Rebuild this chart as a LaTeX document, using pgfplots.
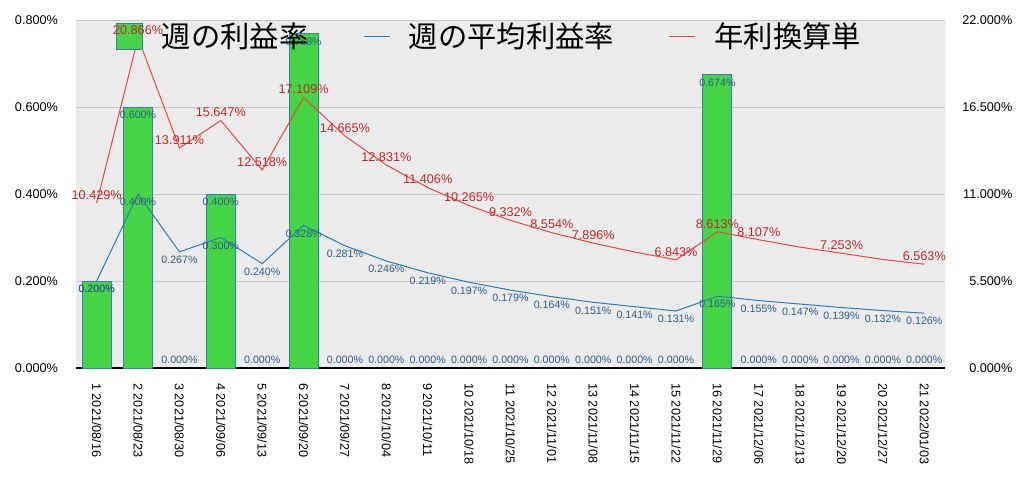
\documentclass[border=0pt]{standalone}
\usepackage{pgfplots}
\pgfplotsset{compat=1.18}
\usepackage{fontspec}
\setmainfont{Liberation Sans}
\newfontfamily\cjk{Noto Sans CJK JP}
\definecolor{barG}{RGB}{68,212,68}
\definecolor{barB}{RGB}{58,124,190}
\definecolor{avgB}{RGB}{46,125,194}
\definecolor{lblB}{RGB}{47,95,145}
\definecolor{redL}{RGB}{240,70,70}
\definecolor{lblR}{RGB}{200,40,40}
\definecolor{bgc}{RGB}{235,235,235}
\definecolor{gridc}{RGB}{200,200,200}
\begin{document}
\begin{tikzpicture}
\pgfplotsset{
  base/.style={scale only axis, width=651.75pt, height=261pt, xmin=0.5, xmax=21.5,
    anchor=south west, at={(0pt,0pt)}, major tick length=0pt, clip=false},
  bluelbl/.style={draw=none, mark=none, point meta=y, nodes near coords={\pgfmathprintnumber[fixed,fixed zerofill,precision=3,assume math mode=true]{\pgfplotspointmeta}\%},
    every node near coord/.style={text=lblB, font=\fontsize{8}{9}\selectfont, inner sep=0pt}},
}
\begin{axis}[base,
  ymin=0, ymax=0.8, ytick={0,0.2,0.4,0.6,0.8},
  yticklabels={0.000\%,0.200\%,0.400\%,0.600\%,0.800\%},
  axis background/.style={fill=bgc},
  ymajorgrids, major grid style={gridc, line width=0.75pt},
  axis x line*=bottom, axis y line*=left,
  y axis line style={draw=none}, x axis line style={black, line width=1.5pt, -},
  xtick={1,...,21},
  xticklabels={1 2021/08/16,2 2021/08/23,3 2021/08/30,4 2021/09/06,5 2021/09/13,6 2021/09/20,7 2021/09/27,8 2021/10/04,9 2021/10/11,10 2021/10/18,11 2021/10/25,12 2021/11/01,13 2021/11/08,14 2021/11/15,15 2021/11/22,16 2021/11/29,17 2021/12/06,18 2021/12/13,19 2021/12/20,20 2021/12/27,21 2022/01/03},
  xticklabel style={rotate=-90, anchor=west, font=\fontsize{9.5}{10}\selectfont},
  xticklabel shift=8pt,
  yticklabel style={anchor=east, xshift=-10pt, font=\fontsize{9.5}{10}\selectfont},
]
\addplot[ybar, bar width=21.75pt, fill=barG, draw=barB, line width=0.75pt] coordinates {
(1,0.2)(2,0.6)(4,0.4)(6,0.768)(16,0.674)
};
\addplot[avgB, line width=0.75pt, mark=none] coordinates {
(1,0.200)(2,0.400)(3,0.267)(4,0.300)(5,0.240)(6,0.328)(7,0.281)(8,0.246)(9,0.219)(10,0.197)(11,0.179)(12,0.164)(13,0.151)(14,0.141)(15,0.131)(16,0.165)(17,0.155)(18,0.147)(19,0.139)(20,0.132)(21,0.126)
};
% bar labels (nonzero)
\addplot[bluelbl, every node near coord/.append style={anchor=north, yshift=-3pt}] coordinates {
(1,0.2)(2,0.6)(4,0.4)(6,0.768)(16,0.674)
};
% bar labels (zero)
\addplot[bluelbl, every node near coord/.append style={anchor=south, yshift=3pt}] coordinates {
(3,0)(5,0)(7,0)(8,0)(9,0)(10,0)(11,0)(12,0)(13,0)(14,0)(15,0)(17,0)(18,0)(19,0)(20,0)(21,0)
};
% average labels
\addplot[bluelbl, every node near coord/.append style={anchor=north, yshift=-3pt}] coordinates {
(1,0.200)(2,0.400)(3,0.267)(4,0.300)(5,0.240)(6,0.328)(7,0.281)(8,0.246)(9,0.219)(10,0.197)(11,0.179)(12,0.164)(13,0.151)(14,0.141)(15,0.131)(16,0.165)(17,0.155)(18,0.147)(19,0.139)(20,0.132)(21,0.126)
};
\end{axis}
\begin{axis}[base,
  ymin=0, ymax=22, ytick={0,5.5,11,16.5,22},
  yticklabels={0.000\%,5.500\%,11.000\%,16.500\%,22.000\%},
  hide x axis, axis y line*=right, y axis line style={draw=none},
  yticklabel style={anchor=east, xshift=54pt, font=\fontsize{9.5}{10}\selectfont},
  legend style={draw=none, fill=none, at={(0.046,0.954)}, anchor=west, legend columns=3,
    font=\cjk\fontsize{22}{22}\selectfont, inner sep=0pt,
    /tikz/every odd column/.append style={column sep=12pt},
    /tikz/every even column/.append style={column sep=39pt}},
]
\addplot[redL, line width=0.75pt, mark=none, forget plot] coordinates {
(1,10.429)(2,20.866)(3,13.911)(4,15.647)(5,12.518)(6,17.109)(7,14.665)(8,12.831)(9,11.406)(10,10.265)(11,9.332)(12,8.554)(13,7.896)(14,7.33)(15,6.843)(16,8.613)(17,8.107)(18,7.64)(19,7.253)(20,6.86)(21,6.563)
};
\addlegendimage{legend image code/.code={\draw[fill=barG, draw=barB, line width=0.75pt] (0pt,-9.75pt) rectangle (19.5pt,9.75pt);}}
\addlegendentry{週の利益率}
\addlegendimage{legend image code/.code={\draw[avgB, line width=0.75pt] (0pt,0pt) -- (19.5pt,0pt);}}
\addlegendentry{週の平均利益率}
\addlegendimage{legend image code/.code={\draw[redL, line width=0.75pt] (0pt,0pt) -- (19.5pt,0pt);}}
\addlegendentry{年利換算単}
\end{axis}
\begin{axis}[base, ymin=0, ymax=22, hide axis]
\addplot[draw=none, mark=none, point meta=y,
  nodes near coords={\pgfmathprintnumber[fixed,fixed zerofill,precision=3,assume math mode=true]{\pgfplotspointmeta}\%},
  every node near coord/.style={text=lblR, font=\fontsize{9.5}{10}\selectfont, inner sep=0pt, anchor=south, yshift=2.5pt}] coordinates {
(1,10.429)(2,20.866)(3,13.911)(4,15.647)(5,12.518)(6,17.109)(7,14.665)(8,12.831)(9,11.406)(10,10.265)(11,9.332)(12,8.554)(13,7.896)(15,6.843)(16,8.613)(17,8.107)(19,7.253)(21,6.563)
};
\end{axis}
\pgfresetboundingbox
\path (-57pt,-85.5pt) rectangle (711pt,276pt);
\end{tikzpicture}
\end{document}
